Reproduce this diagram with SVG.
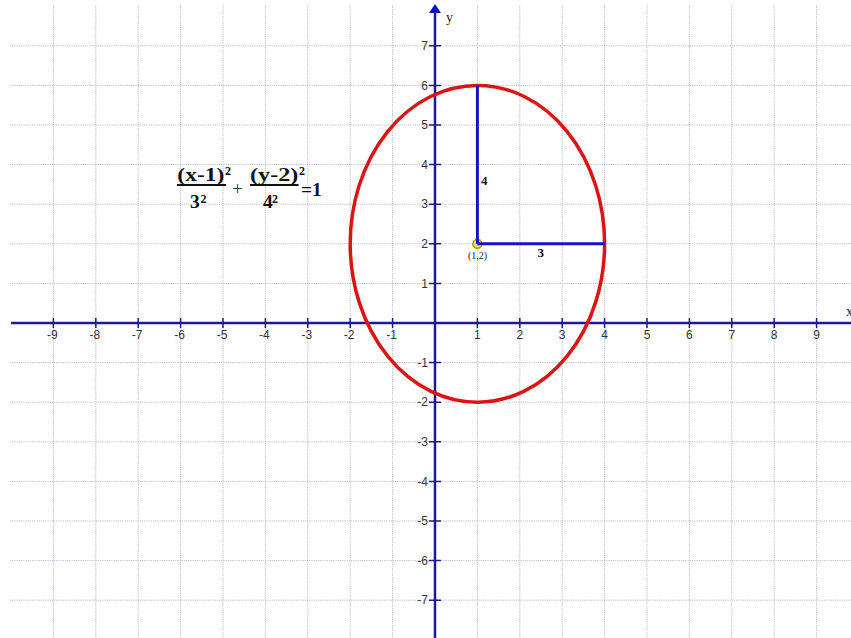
<svg xmlns="http://www.w3.org/2000/svg" width="851" height="638" viewBox="0 0 851 638">
<defs>
<style>
.g{stroke:#b9bdcf;stroke-width:1;stroke-dasharray:1.2,1}
.ax{stroke:#1c1c8c;stroke-width:2.5;fill:none}
.tk{stroke:#1c1c8c;stroke-width:1.5}
.xl{font-family:"Liberation Sans",Arial,sans-serif;font-size:12px;fill:#333;text-anchor:middle}
.yl{font-family:"Liberation Sans",Arial,sans-serif;font-size:12px;fill:#333;text-anchor:end}
.f{font-family:"Liberation Serif","Times New Roman",serif;font-weight:bold;fill:#111}
.s{font-family:"Liberation Serif","Times New Roman",serif;fill:#222}
</style>
</defs>
<rect width="851" height="638" fill="#fff"/>
<g id="grid">
<path class="g" d="M53.4 5V638M95.8 5V638M138.2 5V638M180.6 5V638M223 5V638M265.4 5V638M307.8 5V638M350.2 5V638M392.6 5V638M477.4 5V638M519.8 5V638M562.2 5V638M604.6 5V638M647 5V638M689.4 5V638M731.8 5V638M774.2 5V638M816.6 5V638"/>
<path class="g" d="M10 45.8H851M10 85.4H851M10 125H851M10 164.6H851M10 204.2H851M10 243.8H851M10 283.4H851M10 362.6H851M10 402.2H851M10 441.8H851M10 481.4H851M10 521H851M10 560.6H851M10 600.2H851"/>
</g>
<g id="axes">
<line class="ax" x1="11" y1="323" x2="851" y2="323"/>
<line class="ax" x1="435" y1="12" x2="435" y2="638"/>
<polygon points="435,4 429,13 441,13" fill="#1010c0"/>
<path class="tk" d="M53.4 318V328M95.8 318V328M138.2 318V328M180.6 318V328M223 318V328M265.4 318V328M307.8 318V328M350.2 318V328M392.6 318V328M477.4 318V328M519.8 318V328M562.2 318V328M604.6 318V328M647 318V328M689.4 318V328M731.8 318V328M774.2 318V328M816.6 318V328"/>
<path class="tk" d="M429 45.8H441M429 85.4H441M429 125H441M429 164.6H441M429 204.2H441M429 243.8H441M429 283.4H441M429 362.6H441M429 402.2H441M429 441.8H441M429 481.4H441M429 521H441M429 560.6H441M429 600.2H441"/>
<text class="s" x="446" y="22" font-size="14">y</text>
<text class="s" x="846" y="316" font-size="14">x</text>
</g>
<g id="xlabels">
<text class="xl" x="52.4" y="339">-9</text>
<text class="xl" x="94.8" y="339">-8</text>
<text class="xl" x="137.2" y="339">-7</text>
<text class="xl" x="179.6" y="339">-6</text>
<text class="xl" x="222" y="339">-5</text>
<text class="xl" x="264.4" y="339">-4</text>
<text class="xl" x="306.8" y="339">-3</text>
<text class="xl" x="349.2" y="339">-2</text>
<text class="xl" x="391.6" y="339">-1</text>
<text class="xl" x="477.4" y="339">1</text>
<text class="xl" x="519.8" y="339">2</text>
<text class="xl" x="562.2" y="339">3</text>
<text class="xl" x="604.6" y="339">4</text>
<text class="xl" x="647" y="339">5</text>
<text class="xl" x="689.4" y="339">6</text>
<text class="xl" x="731.8" y="339">7</text>
<text class="xl" x="774.2" y="339">8</text>
<text class="xl" x="816.6" y="339">9</text>
</g>
<g id="ylabels">
<text class="yl" x="428" y="50">7</text>
<text class="yl" x="428" y="89.5">6</text>
<text class="yl" x="428" y="129">5</text>
<text class="yl" x="428" y="168.5">4</text>
<text class="yl" x="428" y="208">3</text>
<text class="yl" x="428" y="248">2</text>
<text class="yl" x="428" y="287.5">1</text>
<text class="yl" x="428" y="366.5">-1</text>
<text class="yl" x="428" y="406">-2</text>
<text class="yl" x="428" y="446">-3</text>
<text class="yl" x="428" y="485.5">-4</text>
<text class="yl" x="428" y="525">-5</text>
<text class="yl" x="428" y="564.5">-6</text>
<text class="yl" x="428" y="604">-7</text>
</g>
<g id="ellipse">
<ellipse cx="477.4" cy="243.8" rx="127.2" ry="158.4" fill="none" stroke="#dd1414" stroke-width="3.5"/>
</g>
<g id="center">
<circle cx="477.4" cy="243.8" r="4.5" fill="#ece070" stroke="#a89a00" stroke-width="1.5"/>
</g>
<g id="radii">
<line x1="477.4" y1="85.4" x2="477.4" y2="243.8" stroke="#1414c0" stroke-width="3"/>
<line x1="477.4" y1="243.8" x2="604.6" y2="243.8" stroke="#1414c0" stroke-width="3"/>
<text class="f" x="481" y="185" font-size="13">4</text>
<text class="f" x="537.5" y="257" font-size="13">3</text>
<text class="s" x="477.5" y="258.5" font-size="10" text-anchor="middle">(1,2)</text>
</g>
<g id="formula">
<text class="f" x="177.3" y="180.5" font-size="19" textLength="47" lengthAdjust="spacingAndGlyphs">(x-1)</text>
<text class="f" x="225" y="175" font-size="12">2</text>
<line x1="177" y1="185" x2="226" y2="185" stroke="#111" stroke-width="2"/>
<text class="f" x="190" y="208" font-size="19.5">3</text>
<text class="f" x="200.5" y="203.3" font-size="12">2</text>
<text class="s" x="237.7" y="194.5" font-size="18" text-anchor="middle">+</text>
<text class="f" x="250" y="180.5" font-size="19" textLength="48.3" lengthAdjust="spacingAndGlyphs">(y-2)</text>
<text class="f" x="299" y="175" font-size="12">2</text>
<line x1="250" y1="185" x2="298.5" y2="185" stroke="#111" stroke-width="2"/>
<text class="f" x="263" y="208" font-size="19.5">4</text>
<text class="f" x="272" y="203.3" font-size="12">2</text>
<text class="f" x="301" y="196" font-size="19.5">=1</text>
</g>
</svg>
